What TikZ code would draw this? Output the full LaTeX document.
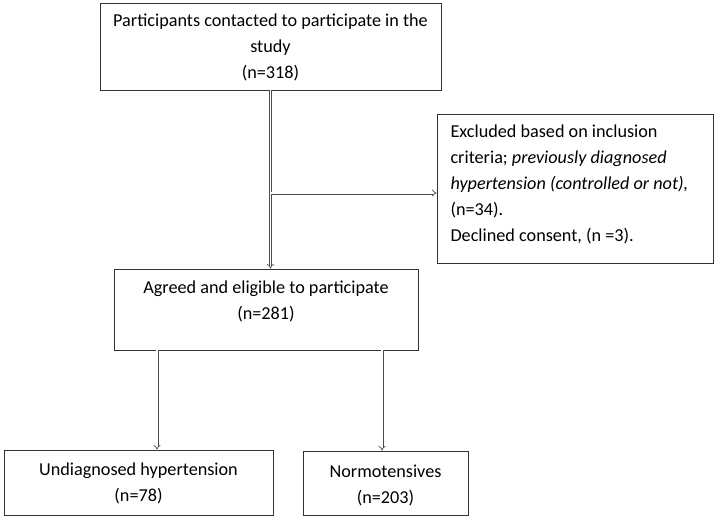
\documentclass[tikz,border=0pt]{standalone}
\usepackage{fontspec}
\setmainfont{Carlito}
\usetikzlibrary{arrows.meta}

\tikzset{
  box/.style={draw=black!80, line width=0.8pt, inner sep=0pt},
  arr/.style={draw=black!70, line width=0.7pt, double=white, double distance=1.6pt, -{Implies}},
}

\begin{document}
\begin{tikzpicture}[x=1pt,y=-1pt,font=\fontsize{18.2}{26}\selectfont]
	\useasboundingbox (0,0) rectangle (717,522);
	\node[box, minimum width=341pt, minimum height=87pt] (contacted) at (270.5,46.5) {};
	\node[align=center, anchor=north] (contactedtxt) at (270.5,10) {Participants contacted to participate in the\\study\\(n=318)};
	\node[box, minimum width=276pt, minimum height=149pt] (excluded) at (575,188.5) {};
	\node[align=left, anchor=north west] (excludedtxt) at (447,121) {Excluded based on inclusion\\criteria; \textit{previously diagnosed}\\\textit{hypertension (controlled or not),}\\(n=34).\\Declined consent, (n =3).};
	\node[box, minimum width=304pt, minimum height=81pt] (agreed) at (266,309.5) {};
	\node[align=center, anchor=north] (agreedtxt) at (266,277) {Agreed and eligible to participate\\(n=281)};
	\node[box, minimum width=269pt, minimum height=65pt] (undiag) at (138.5,482.5) {};
	\node[align=center] (undiagtxt) at (138.5,483.5) {Undiagnosed hypertension\\(n=78)};
	\node[box, minimum width=165pt, minimum height=64pt] (normo) at (385.5,483) {};
	\node[align=center] (normotxt) at (385.5,485) {Normotensives\\(n=203)};
	\coordinate (branch) at (270.5,193);
	\coordinate (lx) at (157,0);
	\coordinate (rx) at (382,0);
	\draw[arr] (contacted.south) -- (contacted.south |- agreed.north);
	\draw[arr] (branch) -- (branch -| excluded.west);
	\draw[arr] (agreed.south -| lx) -- (lx |- undiag.north);
	\draw[arr] (agreed.south -| rx) -- (rx |- normo.north);
\end{tikzpicture}
\end{document}
